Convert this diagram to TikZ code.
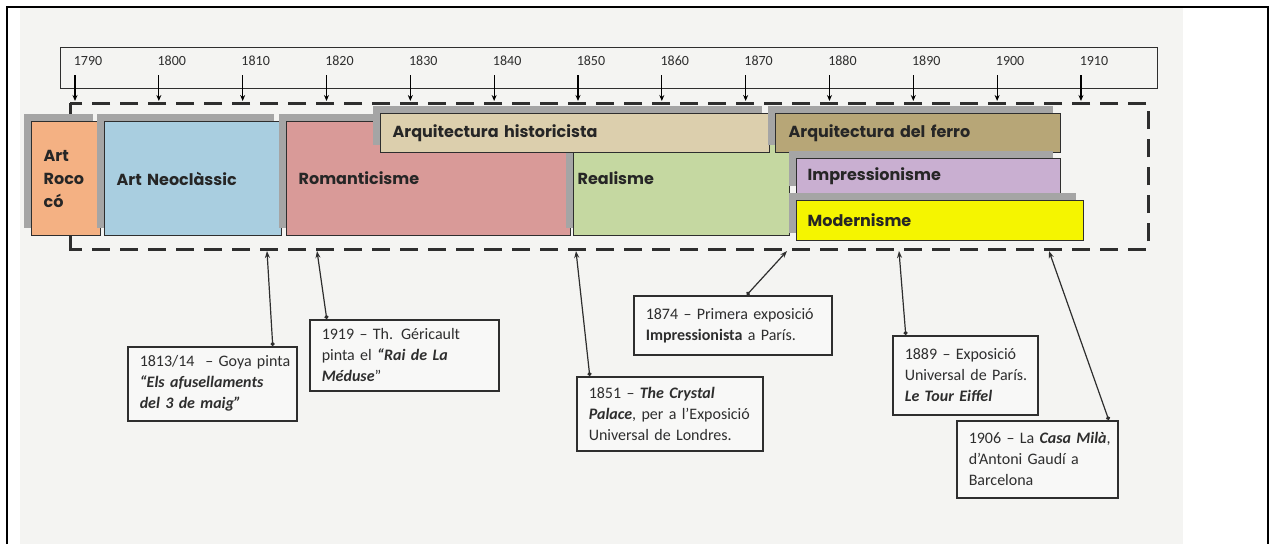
\documentclass[tikz,border=0pt]{standalone}
\usepackage{fontspec}
\setmainfont{Carlito}
\newfontfamily\lab{Poppins}
\usetikzlibrary{arrows.meta,shadows}
\definecolor{bgc}{HTML}{F4F4F2}
\definecolor{rococ}{HTML}{F4B183}
\definecolor{neoc}{HTML}{A9CEE0}
\definecolor{romc}{HTML}{D99A98}
\definecolor{realc}{HTML}{C5D8A1}
\definecolor{histc}{HTML}{DCCFAD}
\definecolor{ferroc}{HTML}{B7A677}
\definecolor{impc}{HTML}{C9AFD1}
\definecolor{modc}{HTML}{F5F500}
\definecolor{shadc}{HTML}{A5A5A5}
\definecolor{inkc}{HTML}{2E2E2E}
\begin{document}
\begin{tikzpicture}[x=1pt,y=-1pt,
  frameline/.style={line width=2pt,black},
  tlbox/.style={draw=inkc,line width=1.3pt,fill=bgc,anchor=north west,inner sep=0pt},
  year/.style={font=\fontsize{14}{16}\selectfont,text=inkc,inner sep=0pt},
  tarrow/.style={line width=1.2pt,-{Stealth[length=6pt,width=5pt]}},
  dashline/.style={line width=3pt,dash pattern=on 18pt off 10pt,inkc},
  solidline/.style={line width=3pt,inkc},
  period/.style={draw=inkc,line width=1.3pt,anchor=north west,inner ysep=0pt,
    font=\lab\bfseries\fontsize{16}{23}\selectfont,text=black!85,align=left,
    general shadow={fill=shadc,shadow xshift=-8pt,shadow yshift=8pt}},
  event/.style={draw=inkc,line width=1.5pt,fill=bgc!60!white,anchor=north west,
    inner xsep=12pt,inner ysep=0pt,align=left,text=inkc,
    font=\fontsize{16}{21}\selectfont},
  earrow/.style={line width=1.2pt,inkc,{Circle[length=4pt,width=4pt]}-{Stealth[length=7pt,width=5pt]}}
]
\useasboundingbox (0,0) rectangle (1270,544);
% background and frame
\fill[bgc] (20,8) rectangle (1183,544);
\draw[frameline] (6.5,544) -- (6.5,7) -- (1268,7) -- (1268,544);

% timeline
\node[tlbox,minimum width=1097pt,minimum height=41pt] (tl) at (60,47) {};
\foreach \i in {0,...,12}{
  \pgfmathsetmacro{\xx}{75+83.83*\i}
  \pgfmathtruncatemacro{\yr}{1790+10*\i}
  \node[year] (y\yr) at (\xx+13,61) {\yr};
  \coordinate (s\yr) at (\xx,75);
  \coordinate (e\yr) at (\xx,101);
  \draw[tarrow] (s\yr) -- (e\yr);
}

% dashed frame
\draw[dashline] (70,103) rectangle (1148,249);
\draw[solidline] (70,103) -- (70,121);
\draw[solidline] (70,235) -- (70,249);

% periods
\node[period,fill=rococ,text width=45pt,inner xsep=12pt,minimum height=114pt] (roco) at (31,121) {Art\\Roco\\có};
\node[period,fill=neoc,text width=153pt,inner xsep=12pt,minimum height=114pt] (neo) at (104,121) {Art Neoclàssic};
\node[period,fill=romc,text width=260pt,inner xsep=12pt,minimum height=114pt] (rom) at (286,121) {Romanticisme};
\node[period,fill=realc,text width=208pt,inner xsep=4pt,minimum height=114pt] (real) at (573,121) {Realisme};
\node[period,fill=histc,text width=365pt,inner xsep=12pt,minimum height=39pt] (hist) at (380,113) {Arquitectura historicista};
\node[period,fill=ferroc,text width=259pt,inner xsep=13pt,minimum height=39pt] (ferro) at (775,113) {Arquitectura del ferro};
\node[period,fill=impc,text width=242pt,inner xsep=11pt,minimum height=35pt] (imp) at (796,158) {Impressionisme};
\node[period,fill=modc,text width=265pt,inner xsep=11pt,minimum height=40pt] (mod) at (796,200) {Modernisme};

% event boxes
\node[event,text width=145pt,minimum height=74pt] (goya) at (127,346)
  {\mbox{1813/14 \ – Goya pinta}\\\mbox{\textbf{\textit{“Els afusellaments}}}\\\mbox{\textbf{\textit{del 3 de maig”}}}};
\node[event,text width=165pt,minimum height=71pt] (geri) at (309,319)
  {\mbox{1919 – Th. Géricault}\\\mbox{pinta el \textbf{\textit{“Rai de La}}}\\\mbox{\textbf{\textit{Méduse}}”}};
\node[event,text width=162pt,minimum height=74pt] (crys) at (576,376)
  {\mbox{1851 – \textbf{\textit{The Crystal}}}\\\mbox{\textbf{\textit{Palace}}, per a l’Exposició}\\\mbox{Universal de Londres.}};
\node[event,text width=174pt,minimum height=59pt] (expo) at (633,295)
  {\mbox{1874 – Primera exposició}\\\mbox{\textbf{Impressionista} a París.}};
\node[event,text width=121pt,minimum height=79pt] (eiff) at (892,335)
  {\mbox{1889 – Exposició}\\\mbox{Universal de París.}\\\mbox{\textbf{\textit{Le Tour Eiffel}}}};
\node[event,text width=137pt,minimum height=77pt] (mila) at (956,420)
  {\mbox{1906 – La \textbf{\textit{Casa Milà}},}\\\mbox{d’Antoni Gaudí a}\\\mbox{Barcelona}};

% event connectors
\coordinate (tgoya) at (267,251);
\coordinate (tgeri) at (317,251);
\coordinate (tcrys) at (576,251);
\coordinate (texpo) at (787,251);
\coordinate (teiff) at (899,251);
\coordinate (tmila) at (1049,251);
\draw[earrow] ([xshift=60.5pt]goya.north) -- (tgoya);
\draw[earrow] ([xshift=-77.5pt]geri.north) -- (tgeri);
\draw[earrow] ([xshift=-80pt]crys.north) -- (tcrys);
\draw[earrow] ([xshift=14pt]expo.north) -- (texpo);
\draw[earrow] ([xshift=-59.5pt]eiff.north) -- (teiff);
\draw[earrow] ([xshift=71.5pt]mila.north) -- (tmila);
\end{tikzpicture}
\end{document}
